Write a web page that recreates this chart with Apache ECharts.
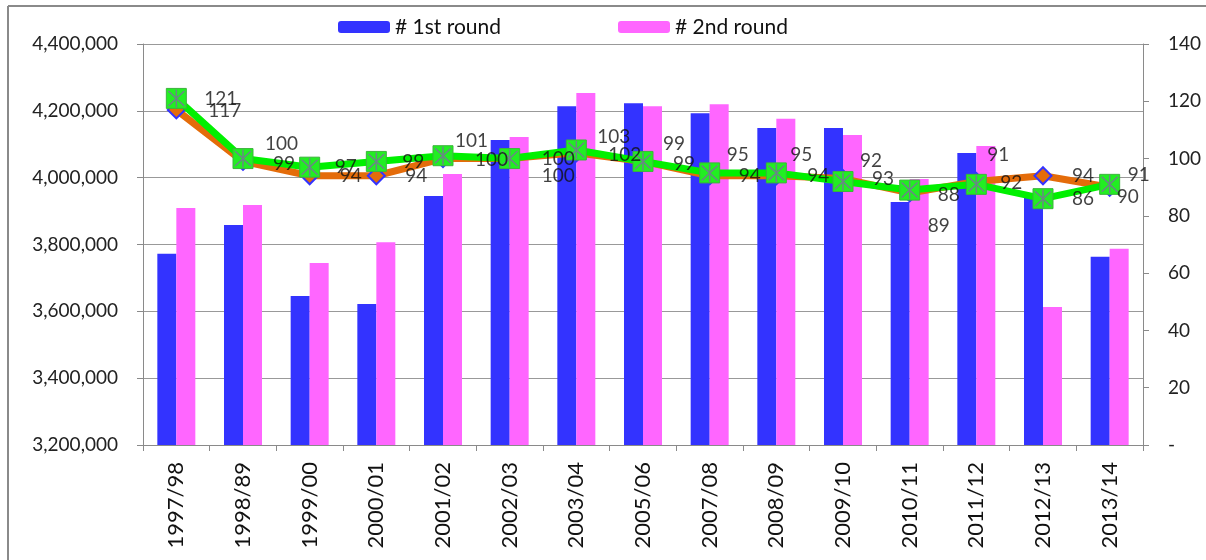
<!DOCTYPE html>
<html>
<head>
<meta charset="utf-8">
<script src="https://cdn.jsdelivr.net/npm/echarts@6/dist/echarts.min.js"></script>
<style>
html,body{margin:0;padding:0;background:#fff;}
#chart{width:1206px;height:560px;}
</style>
</head>
<body>
<div id="chart"></div>
<script>
var categories = ['1997/98','1998/89','1999/00','2000/01','2001/02','2002/03','2003/04','2005/06','2007/08','2008/09','2009/10','2010/11','2011/12','2012/13','2013/14'];
var firstRound = [3772000, 3858000, 3646000, 3622000, 3945000, 4113000, 4214000, 4223000, 4193000, 4149000, 4149000, 3927000, 4074000, 3950000, 3763000];
var secondRound = [3909000, 3918000, 3745000, 3807000, 4011000, 4122000, 4253000, 4214000, 4220000, 4176000, 4128000, 3996000, 4095000, 3613000, 3787000];
var greenIndex = [121, 100, 97, 99, 101, 100, 103, 99, 95, 95, 92, 89, 91, 86, 91];
var orangeIndex = [117, 99, 94, 94, 100, 100, 102, 99, 94, 94, 93, 88, 92, 94, 90];
var leftTicks = {min: 3200000, max: 4400000, interval: 200000};
var rightTicks = {min: 0, max: 140, interval: 20};

// label placement (styling only)
var greenLabelOffsets = [[28,0],[22,-15],[25,0],[26,0],[12,-15],[32,0],[21,-13],[20,-18],[17,-18],[14,-18],[17,-21],[18,36],[11,-29],[29,0],[18,-9]];
var orangeLabelOffsets = [[32,1],[30,2],[30,0],[29,0],[32,1],[32,17],[32,2],[30,2],[29,0],[31,0],[29,0],[28,2],[24,1],[29,0],[7,10]];

var FONT = 'Lato';
function fmtThousands(v){ return String(v).replace(/\B(?=(\d{3})+(?!\d))/g, ','); }

function withLabels(values, offsets){
  return values.map(function(v, i){
    return {value: v, label: {offset: offsets[i]}};
  });
}

var asterisk = 'path://M9.3 1 L10.7 1 L10.7 19 L9.3 19 Z M2 3 L3 2 L18 17 L17 18 Z M17 2 L18 3 L3 18 L2 17 Z';

var chart = echarts.init(document.getElementById('chart'), null, {renderer: 'canvas'});
var labelCommon = {
  show: true, position: 'inside', align: 'left', verticalAlign: 'middle',
  color: '#111', fontFamily: FONT, fontSize: 19
};
function labelSeries(name, values, offsets){
  return {name: name, type: 'scatter', yAxisIndex: 1, data: withLabels(values, offsets),
    symbol: 'circle', symbolSize: 2, itemStyle: {color: 'rgba(0,0,0,0)'}, label: labelCommon,
    silent: true, z: 10};
}
chart.setOption({
  animation: false,
  backgroundColor: '#fff',
  textStyle: {fontFamily: FONT},
  graphic: [
    {type: 'line', shape: {x1: 8, y1: 6, x2: 1206, y2: 6}, style: {stroke: '#8a8a8a', lineWidth: 2}, silent: true},
    {type: 'line', shape: {x1: 8, y1: 6, x2: 8, y2: 560}, style: {stroke: '#8a8a8a', lineWidth: 2}, silent: true}
  ],
  legend: [
    {data: ['# 1st round'], left: 333, top: 10, itemWidth: 52, itemHeight: 12, itemGap: 0,
     textStyle: {fontFamily: FONT, fontSize: 21, color: '#111', lineHeight: 24}, selectedMode: false},
    {data: ['# 2nd round'], left: 613, top: 10, itemWidth: 52, itemHeight: 12, itemGap: 0,
     textStyle: {fontFamily: FONT, fontSize: 21, color: '#111', lineHeight: 24}, selectedMode: false}
  ],
  grid: {left: 143, right: 63, top: 44, bottom: 115, containLabel: false},
  xAxis: {
    type: 'category', data: categories, boundaryGap: true,
    axisLine: {lineStyle: {color: '#8a8a8a', width: 1}},
    axisTick: {show: true, interval: 0, length: 6, lineStyle: {color: '#8a8a8a'}},
    axisLabel: {interval: 0, rotate: 90, margin: 17, fontFamily: FONT, fontSize: 22, color: '#111'}
  },
  yAxis: [
    {
      type: 'value', min: leftTicks.min, max: leftTicks.max, interval: leftTicks.interval,
      axisLine: {show: true, lineStyle: {color: '#8a8a8a'}},
      axisTick: {show: true, length: 6, lineStyle: {color: '#8a8a8a'}},
      splitLine: {show: true, lineStyle: {color: '#999', width: 1}},
      axisLabel: {margin: 25, fontFamily: FONT, fontSize: 19, color: '#222', formatter: fmtThousands}
    },
    {
      type: 'value', min: rightTicks.min, max: rightTicks.max, interval: rightTicks.interval,
      position: 'right',
      axisLine: {show: true, lineStyle: {color: '#8a8a8a'}},
      axisTick: {show: true, length: 6, lineStyle: {color: '#8a8a8a'}},
      splitLine: {show: false},
      axisLabel: {margin: 25, fontFamily: FONT, fontSize: 19, color: '#222',
        formatter: function(v){ return v === 0 ? '-' : String(v); }}
    }
  ],
  series: [
    {name: '# 1st round', type: 'bar', data: firstRound, barWidth: 19, barGap: '0%',
     itemStyle: {color: '#3333FF'}, z: 2},
    {name: '# 2nd round', type: 'bar', data: secondRound, barWidth: 19, barGap: '0%',
     itemStyle: {color: '#FF66FF'}, z: 2},
    {name: 'orange', type: 'line', yAxisIndex: 1, data: orangeIndex,
     lineStyle: {color: '#E46C0A', width: 7}, symbol: 'diamond', symbolSize: 17,
     itemStyle: {color: '#E46C0A', borderColor: '#3333FF', borderWidth: 2}, z: 3},
    {name: 'green', type: 'line', yAxisIndex: 1, data: greenIndex,
     lineStyle: {color: '#00F000', width: 7}, symbol: 'rect', symbolSize: 20,
     itemStyle: {color: '#22EE22', borderColor: '#3CB43C', borderWidth: 1}, z: 4},
    {name: 'greenStar', type: 'scatter', yAxisIndex: 1, data: greenIndex, symbol: asterisk,
     symbolSize: [17, 18], itemStyle: {color: '#7D6BA0'}, silent: true, z: 5},
    labelSeries('orangeLabels', orangeIndex, orangeLabelOffsets),
    labelSeries('greenLabels', greenIndex, greenLabelOffsets)
  ]
});
</script>
</body>
</html>
